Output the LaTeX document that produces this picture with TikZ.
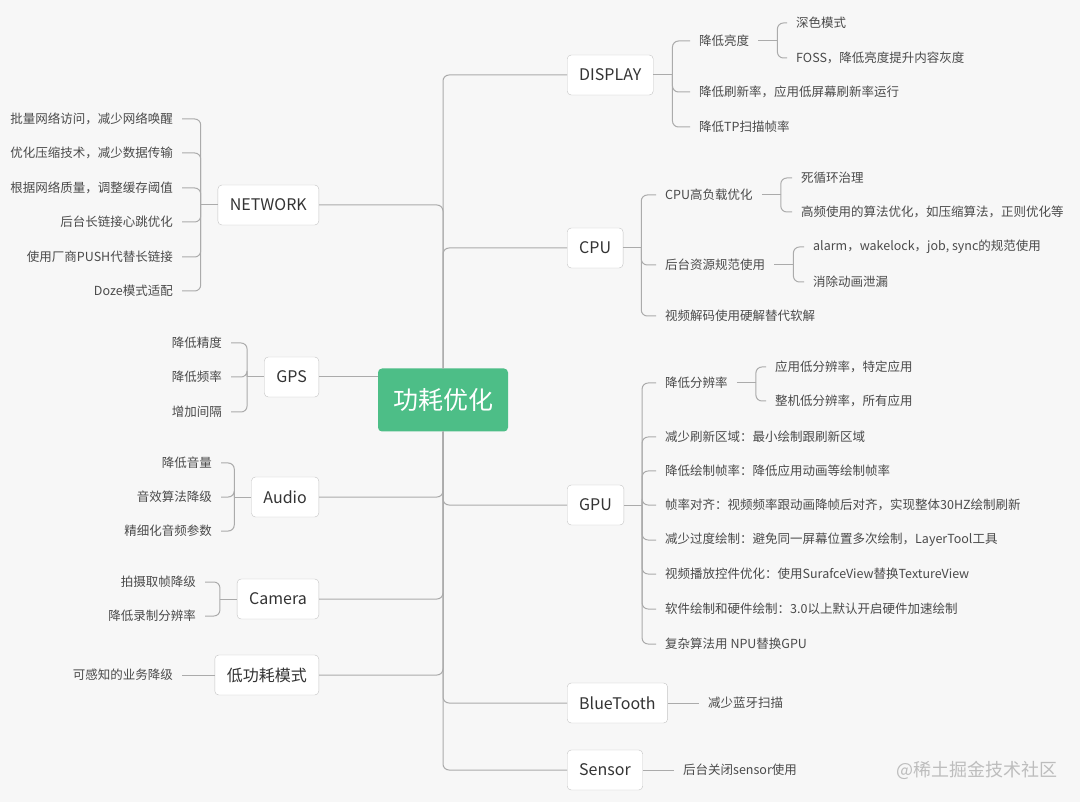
\documentclass[tikz,border=0pt]{standalone}
\usepackage{fontspec}
\setmainfont{Noto Sans CJK SC}
\usetikzlibrary{calc}
\definecolor{bgc}{HTML}{F7F7F7}
\definecolor{linec}{HTML}{ABABAB}
\definecolor{boxc}{HTML}{C4C4C4}
\definecolor{txtc}{HTML}{333333}
\definecolor{leafc}{HTML}{4A4A4A}
\definecolor{rootc}{HTML}{4DBE87}
\definecolor{markc}{HTML}{BDBDBD}

\begin{document}
\begin{tikzpicture}[x=1pt,y=-1pt,
  link/.style={draw=linec, line width=1pt, rounded corners=6pt},
  topic/.style={draw=boxc, fill=white, rounded corners=4pt, minimum height=40pt, inner xsep=12pt, text=txtc, font=\fontsize{16}{19}\selectfont},
  root/.style={fill=rootc, rounded corners=4pt, minimum width=130pt, minimum height=63pt, text=white, font=\fontsize{25}{30}\selectfont},
  leafR/.style={anchor=west, inner xsep=9pt, inner ysep=2pt, text=leafc, font=\fontsize{12.5}{15}\selectfont},
  leafL/.style={leafR, anchor=east}]
\useasboundingbox (0,0) rectangle (1080,802);
\fill[bgc] (0,0) rectangle (1080,802);

\node[root] (root) at (443,400) {功耗优化};

% right side
\node[topic,anchor=west] (display) at (567,75) {DISPLAY};
\node[topic,anchor=west] (cpu) at (567,248) {CPU};
\node[topic,anchor=west] (gpu) at (567,505) {GPU};
\node[topic,anchor=west] (bt) at (567,703) {BlueTooth};
\node[topic,anchor=west] (sensor) at (567,770) {Sensor};
\foreach \n in {display,cpu}{
  \draw[link] (root.north) |- (\n.west);
}
\foreach \n in {gpu,bt,sensor}{
  \draw[link] (root.south) |- (\n.west);
}

% left side
\node[topic,anchor=east] (network) at (319,205) {NETWORK};
\node[topic,anchor=east] (gps) at (319,377) {GPS};
\node[topic,anchor=east] (audio) at (319,497) {Audio};
\node[topic,anchor=east] (camera) at (319,599) {Camera};
\node[topic,anchor=east] (lowpow) at (319,675) {低功耗模式};
\draw[link] (network.east) -| (root.north);
\draw[link] (gps.east) -- (gps.east -| root.west);
\foreach \n in {audio,camera,lowpow}{
  \draw[link] (\n.east) -| (root.south);
}

% DISPLAY
\coordinate (dj) at ([xshift=19pt]display.east);
\draw[link] (display.east) -- (dj);
\foreach \y/\t [count=\i] in {41/降低亮度, 92/降低刷新率，应用低屏幕刷新率运行, 127/降低TP扫描帧率}{
  \node[leafR] (d\i) at (690,\y) {\t};
  \draw[link] (dj) |- (d\i.west);
}
\coordinate (d1j) at ([xshift=19pt]d1.east);
\draw[link] (d1.east) -- (d1j);
\foreach \y/\t [count=\i] in {23/深色模式, 58/FOSS，降低亮度提升内容灰度}{
  \node[leafR] (d1s\i) at (787,\y) {\t};
  \draw[link] (d1j) |- (d1s\i.west);
}

% CPU
\coordinate (cj) at ([xshift=18pt]cpu.east);
\draw[link] (cpu.east) -- (cj);
\foreach \y/\t [count=\i] in {195/CPU高负载优化, 265/后台资源规范使用, 316/视频解码使用硬解替代软解}{
  \node[leafR] (c\i) at (656,\y) {\t};
  \draw[link] (cj) |- (c\i.west);
}
\coordinate (c1j) at ([xshift=19pt]c1.east);
\draw[link] (c1.east) -- (c1j);
\foreach \y/\t [count=\i] in {178/死循环治理, 212/高频使用的算法优化，如压缩算法，正则优化等}{
  \node[leafR] (c1s\i) at (792,\y) {\t};
  \draw[link] (c1j) |- (c1s\i.west);
}
\coordinate (c2j) at ([xshift=19pt]c2.east);
\draw[link] (c2.east) -- (c2j);
\foreach \y/\t [count=\i] in {247/{alarm，wakelock，job, sync的规范使用}, 282/消除动画泄漏}{
  \node[leafR] (c2s\i) at (804,\y) {\t};
  \draw[link] (c2j) |- (c2s\i.west);
}

% GPU
\coordinate (gj) at ([xshift=18pt]gpu.east);
\draw[link] (gpu.east) -- (gj);
\foreach \y/\t [count=\i] in {383/降低分辨率,
    437/减少刷新区域：最小绘制跟刷新区域,
    471/降低绘制帧率：降低应用动画等绘制帧率,
    505/帧率对齐：视频频率跟动画降帧后对齐，实现整体30HZ绘制刷新,
    540/减少过度绘制：避免同一屏幕位置多次绘制，LayerTool工具,
    574/视频播放控件优化：使用SurafceView替换TextureView,
    609/软件绘制和硬件绘制：3.0以上默认开启硬件加速绘制,
    644/复杂算法用 NPU替换GPU}{
  \node[leafR] (g\i) at (656,\y) {\t};
  \draw[link] (gj) |- (g\i.west);
}
\coordinate (g1j) at ([xshift=19pt]g1.east);
\draw[link] (g1.east) -- (g1j);
\foreach \y/\t [count=\i] in {367/应用低分辨率，特定应用, 401/整机低分辨率，所有应用}{
  \node[leafR] (g1s\i) at (766,\y) {\t};
  \draw[link] (g1j) |- (g1s\i.west);
}

% BlueTooth, Sensor
\node[leafR] (b1) at (699,703) {减少蓝牙扫描};
\draw[link] (bt.east) -- (b1.west);
\node[leafR] (s1) at (674,770) {后台关闭sensor使用};
\draw[link] (sensor.east) -- (s1.west);

% NETWORK
\coordinate (nj) at ([xshift=-17pt]network.west);
\draw[link] (network.west) -- (nj);
\foreach \y/\t [count=\i] in {119/批量网络访问，减少网络唤醒, 153/优化压缩技术，减少数据传输,
    188/根据网络质量，调整缓存阈值, 222/后台长链接心跳优化,
    257/使用厂商PUSH代替长链接, 291/Doze模式适配}{
  \node[leafL] (n\i) at (182,\y) {\t};
  \draw[link] (nj) |- (n\i.east);
}

% GPS
\coordinate (gpj) at ([xshift=-17pt]gps.west);
\draw[link] (gps.west) -- (gpj);
\foreach \y/\t [count=\i] in {343/降低精度, 377/降低频率, 412/增加间隔}{
  \node[leafL] (gp\i) at (231,\y) {\t};
  \draw[link] (gpj) |- (gp\i.east);
}

% Audio
\coordinate (aj) at ([xshift=-17pt]audio.west);
\draw[link] (audio.west) -- (aj);
\foreach \y/\t [count=\i] in {463/降低音量, 497/音效算法降级, 531/精细化音频参数}{
  \node[leafL] (a\i) at (221,\y) {\t};
  \draw[link] (aj) |- (a\i.east);
}

% Camera
\coordinate (caj) at ([xshift=-17pt]camera.west);
\draw[link] (camera.west) -- (caj);
\foreach \y/\t [count=\i] in {582/拍摄取帧降级, 616/降低录制分辨率}{
  \node[leafL] (ca\i) at (205,\y) {\t};
  \draw[link] (caj) |- (ca\i.east);
}

% low power mode
\node[leafL] (l1) at (182,675) {可感知的业务降级};
\draw[link] (lowpow.west) -- (l1.east);

\node[text=markc, font=\fontsize{18}{22}\selectfont] (mark) at (977,770) {@稀土掘金技术社区};
\end{tikzpicture}
\end{document}
